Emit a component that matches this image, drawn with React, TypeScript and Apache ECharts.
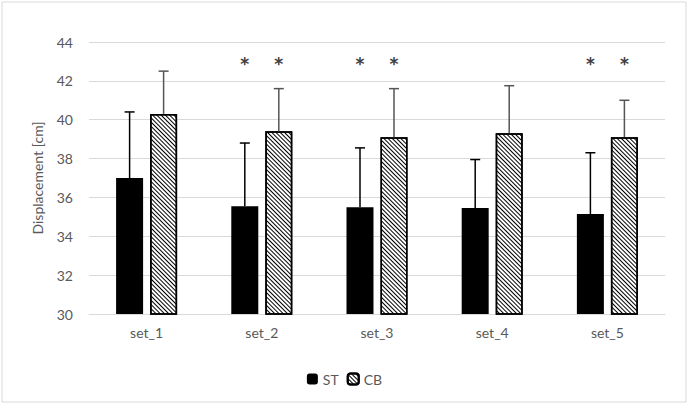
import React, { useEffect, useRef } from "react";
import * as echarts from "echarts";

const categories = ["set_1", "set_2", "set_3", "set_4", "set_5"];
const stMeans = [37.0, 35.55, 35.5, 35.45, 35.15];
const stErr = [3.4, 3.25, 3.05, 2.5, 3.15];
const cbMeans = [40.3, 39.4, 39.1, 39.3, 39.1];
const cbErr = [2.2, 2.2, 2.5, 2.45, 1.9];
const significant = [false, true, true, false, true];
const starLevel = 43.05;
const yTicks = [30, 32, 34, 36, 38, 40, 42, 44];

const BAR_W = 27;
const OFFSET = 17;
const FONT = "Lato, 'Open Sans', sans-serif";

export default function App() {
  const ref = useRef<HTMLDivElement>(null);
  useEffect(() => {
    if (!ref.current) return;
    const chart = echarts.init(ref.current, null, { renderer: "svg" });

    const errItem = (sign: number, means: number[], errs: number[], color: string) =>
      (params: any, api: any) => {
        const i = api.value(0);
        const base = api.coord([i, means[i]]);
        const top = api.coord([i, means[i] + errs[i]]);
        const x = base[0] + sign * OFFSET;
        return {
          type: "group",
          children: [
            { type: "line", shape: { x1: x, y1: base[1], x2: x, y2: top[1] }, style: { stroke: color, lineWidth: 1.5 } },
            { type: "line", shape: { x1: x - 5, y1: top[1], x2: x + 5, y2: top[1] }, style: { stroke: color, lineWidth: 1.5 } },
          ],
        };
      };

    const starItem = (params: any, api: any) => {
      const i = api.value(0);
      if (!significant[i]) return { type: "group", children: [] };
      const p = api.coord([i, starLevel]);
      return {
        type: "group",
        children: [-1, 1].map((s) => ({
          type: "text",
          x: p[0] + s * OFFSET,
          y: p[1] + 4,
          style: {
            text: "*",
            font: "bold 17px 'DejaVu Sans', sans-serif",
            fill: "#404040",
            align: "center",
            verticalAlign: "middle",
          },
        })),
      };
    };

    const idx = categories.map((_, i) => [i]);

    chart.setOption({
      animation: false,
      backgroundColor: "#fff",
      textStyle: { fontFamily: FONT },
      graphic: [
        {
          type: "rect",
          shape: { x: 2, y: 2, width: 684, height: 400 },
          style: { fill: "none", stroke: "#d9d9d9", lineWidth: 1 },
          silent: true,
        },
      ],
      grid: { left: 89, right: 24, top: 42, bottom: 92 },
      legend: {
        top: 367,
        left: "center",
        itemWidth: 11,
        itemHeight: 11,
        itemGap: 8,
        textStyle: { color: "#595959", fontSize: 14, fontFamily: FONT },
        data: ["ST", "CB"],
      },
      xAxis: {
        type: "category",
        data: categories,
        axisLine: { lineStyle: { color: "#d9d9d9", width: 1 } },
        axisTick: { show: false },
        axisLabel: { color: "#595959", fontSize: 14, margin: 11 },
      },
      yAxis: {
        type: "value",
        min: yTicks[0],
        max: yTicks[yTicks.length - 1],
        interval: 2,
        name: "Displacement [cm]",
        nameLocation: "middle",
        nameRotate: 90,
        nameGap: 45,
        nameTextStyle: { color: "#595959", fontSize: 14 },
        axisLine: { show: false },
        axisTick: { show: false },
        axisLabel: { color: "#595959", fontSize: 14, margin: 16 },
        splitLine: { lineStyle: { color: "#d9d9d9", width: 1 } },
      },
      series: [
        {
          name: "ST",
          type: "bar",
          data: stMeans,
          barWidth: BAR_W,
          barGap: "26%",
          itemStyle: { color: "#000" },
        },
        {
          name: "CB",
          type: "bar",
          data: cbMeans,
          barWidth: BAR_W,
          itemStyle: {
            color: "#fff",
            borderColor: "#000",
            borderWidth: 1.5,
            decal: {
              symbol: "rect",
              symbolSize: 1,
              dashArrayX: [1, 0],
              dashArrayY: [1, 2],
              rotation: Math.PI / 4,
              color: "#000",
              backgroundColor: "#fff",
            },
          },
        },
        {
          type: "custom",
          data: idx,
          renderItem: errItem(-1, stMeans, stErr, "#000"),
          z: 5,
          silent: true,
        },
        {
          type: "custom",
          data: idx,
          renderItem: errItem(1, cbMeans, cbErr, "#555"),
          z: 5,
          silent: true,
        },
        {
          type: "custom",
          data: idx,
          renderItem: starItem,
          z: 5,
          silent: true,
        },
      ],
    });
    return () => chart.dispose();
  }, []);

  return (
    <div
      ref={ref}
      style={{ position: "fixed", left: 0, top: 0, width: 689, height: 406 }}
    />
  );
}
